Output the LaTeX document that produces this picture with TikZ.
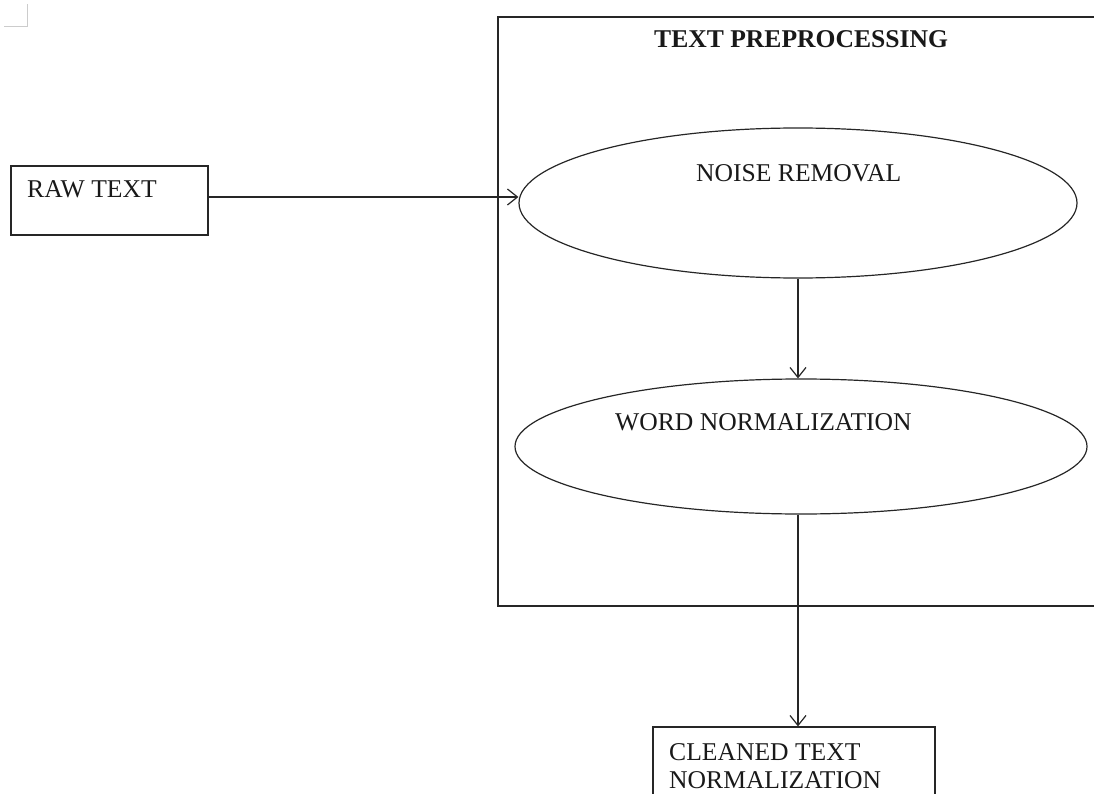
\documentclass[tikz,border=0pt]{standalone}
\usepackage{fontspec}
\setmainfont{Liberation Serif}
\usetikzlibrary{shapes.geometric,arrows.meta}
\begin{document}
\begin{tikzpicture}[x=1pt,y=1pt,
  line/.style={draw=black!85,line width=1.2pt},
  arr/.style={line,-{Straight Barb[length=10pt,width=16pt,line width=1.2pt]}},
  box/.style={line,rectangle,inner sep=0pt},
  oval/.style={line,ellipse,inner sep=0pt},
  lbl/.style={anchor=base west,inner sep=0pt,font=\fontsize{25.6}{30}\selectfont,text=black!90},
  ttl/.style={lbl,font=\fontsize{25.6}{30}\selectfont\bfseries}]
\useasboundingbox (0,0) rectangle (1094,-794);
\clip (0,0) rectangle (1094,-794);
% corner mark
\draw[black!20,line width=1pt] (4,-27) -- (27,-27) -- (27,-4);
% frame
\node[box,minimum width=612,minimum height=589] (frame) at (804,-311.5) {};
\node[ttl] (title) at (654,-48) {TEXT PREPROCESSING};
% raw text
\node[box,minimum width=197,minimum height=69] (raw) at (109.5,-200.5) {};
\node[lbl] (rawt) at (27,-198) {RAW TEXT};
% ellipses
\node[oval,minimum width=558,minimum height=150] (e1) at (798,-203) {};
\node[lbl] (e1t) at (696,-182) {NOISE REMOVAL};
\node[oval,minimum width=572,minimum height=135] (e2) at (801,-446.5) {};
\node[lbl] (e2t) at (615,-430) {WORD NORMALIZATION};
% cleaned box
\node[box,minimum width=282,minimum height=90] (clean) at (794,-772) {};
\node[lbl] (ct1) at (669,-760) {CLEANED TEXT};
\node[lbl] (ct2) at (669,-788) {NORMALIZATION};
% connectors
\draw[arr] ([yshift=3.5pt]raw.east) -- ([yshift=3.5pt]raw.east -| e1.west);
\draw[arr] (e1.south) -- (e1.south |- e2.north);
\draw[arr] (e2.south -| e1.south) -- (clean.north -| e1.south);
\end{tikzpicture}
\end{document}
